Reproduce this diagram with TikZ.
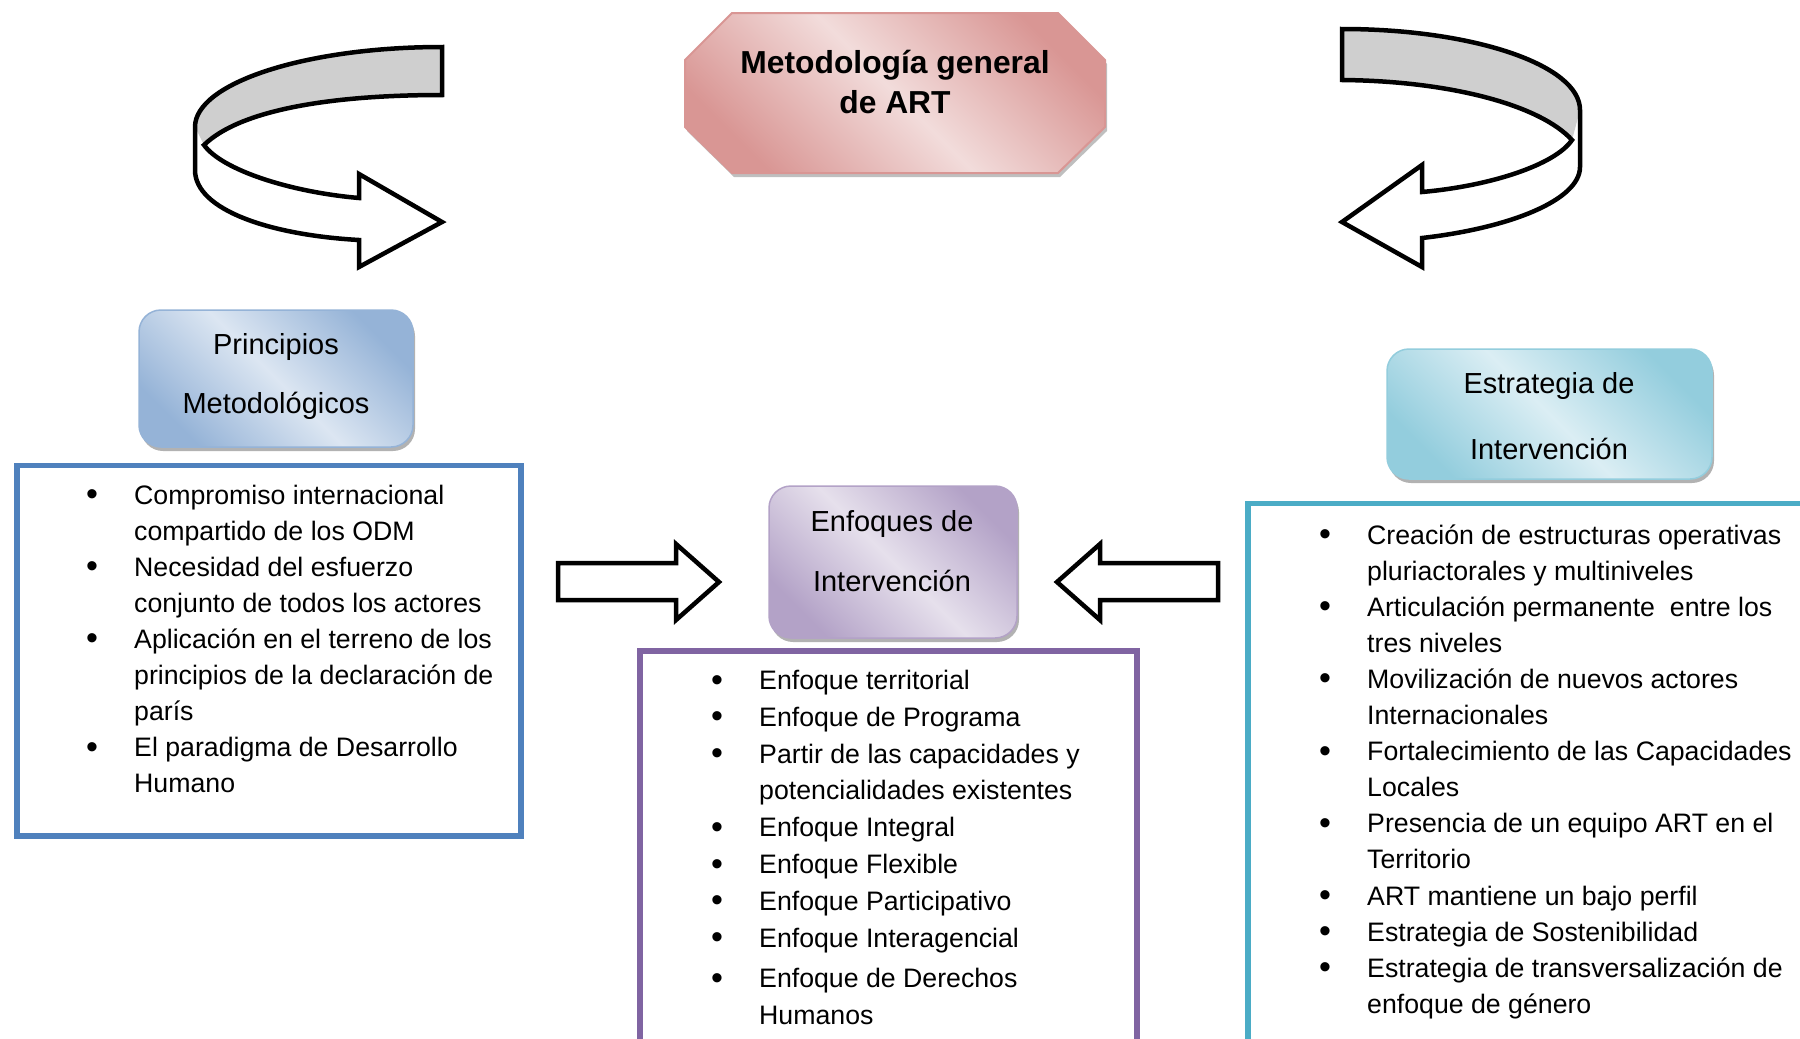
\documentclass[tikz,border=0pt]{standalone}
\usepackage{fontspec}
\setmainfont{Liberation Sans}
\usetikzlibrary{shadows}
\definecolor{pmDark}{HTML}{95B3D7}
\definecolor{pmLight}{HTML}{DCE6F2}
\definecolor{enDark}{HTML}{B3A2C7}
\definecolor{enLight}{HTML}{E6E0EC}
\definecolor{esDark}{HTML}{93CDDD}
\definecolor{esLight}{HTML}{DBEEF4}
\definecolor{tiDark}{HTML}{D99694}
\definecolor{tiLight}{HTML}{F2DCDB}
\definecolor{bBlue}{HTML}{4F81BD}
\definecolor{bPurple}{HTML}{8064A2}
\definecolor{bAqua}{HTML}{4BACC6}
\definecolor{bandGray}{HTML}{CFCFCF}
\newcommand{\bl}{\makebox[47pt][l]{\hspace*{-1pt}\raisebox{-1.5pt}{\fontsize{34}{34}\selectfont •}}}
\begin{document}
\begin{tikzpicture}[x=1pt,y=-1pt,
  headbox/.style 2 args={draw=#1, line width=1.5pt, rounded corners=22pt,
    top color=#1, bottom color=#1, middle color=#2, shading angle=-45,
    drop shadow={shadow xshift=2pt, shadow yshift=-4pt, fill=black, opacity=0.3}},
  headtxt/.style={anchor=base, inner sep=0pt, font=\fontsize{29}{#1}\selectfont},
  titletxt/.style={anchor=base, inner sep=0pt, font=\fontsize{31.8}{40}\selectfont\bfseries},
  listbox/.style={draw=#1, line width=5.5pt, inner sep=0pt},
  listtxt/.style={anchor=base west, inner sep=0pt, font=\fontsize{26.7}{#1}\selectfont},
  blockarrow/.style={draw=black, line width=4.5pt, fill=white, line join=miter},
  bandfill/.style={fill=bandGray}
]
\useasboundingbox (0,0) rectangle (1800,1039);
\clip (0,0) rectangle (1800,1039);
\fill[white] (0,0) rectangle (1800,1039);

% ---- left curved arrow
\fill[bandfill] (442,47) .. controls (306,47) and (195,83) .. (195,127)
  -- (204,145) .. controls (240,110) and (330,95) .. (442,95) -- cycle;
\draw[blockarrow, fill=none] (442,47) .. controls (306,47) and (195,83) .. (195,127)
  -- (195,170) .. controls (195,210) and (270,235) .. (359,240)
  -- (359,267) -- (442,222) -- (359,174) -- (359,198)
  .. controls (290,192) and (222,170) .. (204,145)
  .. controls (240,110) and (330,95) .. (442,95) -- cycle;

% ---- right curved arrow
\fill[bandfill] (1342,29) .. controls (1473,29) and (1580,65) .. (1580,110)
  -- (1572,140) .. controls (1540,105) and (1450,81) .. (1342,80) -- cycle;
\draw[blockarrow, fill=none] (1342,29) .. controls (1473,29) and (1580,65) .. (1580,110)
  -- (1580,167) .. controls (1580,200) and (1510,228) .. (1422,238)
  -- (1422,267) -- (1342,222) -- (1422,165) -- (1422,192)
  .. controls (1490,186) and (1555,165) .. (1572,140)
  .. controls (1540,105) and (1450,81) .. (1342,80) -- cycle;

% ---- title octagon
\begin{scope}[shift={(2,4)}]
\fill[black,opacity=0.25] (732,13) -- (1058,13) -- (1105,60) -- (1105,127) -- (1058,173)
  -- (732,173) -- (685,127) -- (685,60) -- cycle;
\end{scope}
\draw[draw=tiDark, line width=2pt, top color=tiDark, bottom color=tiDark, middle color=tiLight, shading angle=-45]
  (732,13) -- (1058,13) -- (1105,60) -- (1105,127) -- (1058,173)
  -- (732,173) -- (685,127) -- (685,60) -- cycle;
\node[titletxt] (title) at (895,73) {\begin{tabular}[t]{@{}c@{}}Metodología general\\de ART\end{tabular}};

% ---- heading boxes
\node[headbox={pmDark}{pmLight}, minimum width=274pt, minimum height=137pt] (pm) at (276,378.5) {};
\node[headtxt=59] (pmt) at (276,354) {\begin{tabular}[t]{@{}c@{}}Principios\\Metodológicos\end{tabular}};

\node[headbox={enDark}{enLight}, minimum width=248pt, minimum height=152pt] (en) at (893,562) {};
\node[headtxt=60] (ent) at (892,531.5) {\begin{tabular}[t]{@{}c@{}}Enfoques de\\Intervención\end{tabular}};

\node[headbox={esDark}{esLight}, minimum width=325pt, minimum height=130pt] (es) at (1549.5,414) {};
\node[headtxt=66] (est) at (1549,393) {\begin{tabular}[t]{@{}c@{}}Estrategia de\\Intervención\end{tabular}};

% ---- list boxes
\node[listbox=bBlue, minimum width=504pt, minimum height=370.5pt] (lbox) at (269,650.75) {};
\node[listbox=bPurple, minimum width=497pt, minimum height=449pt] (mbox) at (888.5,875.5) {};
\node[listbox=bAqua, minimum width=652pt, minimum height=596.5pt] (rbox) at (1574,801.75) {};

\node[listtxt=36.1] (ltxt) at (87,504) {\begin{tabular}[t]{@{}l@{}l@{}}
\bl & Compromiso internacional\\
    & compartido de los ODM\\
\bl & Necesidad del esfuerzo\\
    & conjunto de todos los actores\\
\bl & Aplicación en el terreno de los\\
    & principios de la declaración de\\
    & parís\\
\bl & El paradigma de Desarrollo\\
    & Humano
\end{tabular}};

\node[listtxt=36.8] (mtxt) at (712,689.5) {\begin{tabular}[t]{@{}l@{}l@{}}
\bl & Enfoque territorial\\
\bl & Enfoque de Programa\\
\bl & Partir de las capacidades y\\
    & potencialidades existentes\\
\bl & Enfoque Integral\\
\bl & Enfoque Flexible\\
\bl & Enfoque Participativo\\
\bl & Enfoque Interagencial\\[4pt]
\bl & Enfoque de Derechos\\
    & Humanos
\end{tabular}};

\node[listtxt=36.1] (rtxt) at (1320,544) {\begin{tabular}[t]{@{}l@{}l@{}}
\bl & Creación de estructuras operativas\\
    & pluriactorales y multiniveles\\
\bl & Articulación permanente \ entre los\\
    & tres niveles\\
\bl & Movilización de nuevos actores\\
    & Internacionales\\
\bl & Fortalecimiento de las Capacidades\\
    & Locales\\
\bl & Presencia de un equipo ART en el\\
    & Territorio\\
\bl & ART mantiene un bajo perfil\\
\bl & Estrategia de Sostenibilidad\\
\bl & Estrategia de transversalización de\\
    & enfoque de género
\end{tabular}};

% ---- block arrows
\draw[blockarrow] (558,563) -- (676,563) -- (676,544) -- (719,582) -- (676,620)
  -- (676,600) -- (558,600) -- cycle;
\draw[blockarrow] (1218,563) -- (1100,563) -- (1100,544) -- (1057,582) -- (1100,620)
  -- (1100,600) -- (1218,600) -- cycle;
\end{tikzpicture}
\end{document}
